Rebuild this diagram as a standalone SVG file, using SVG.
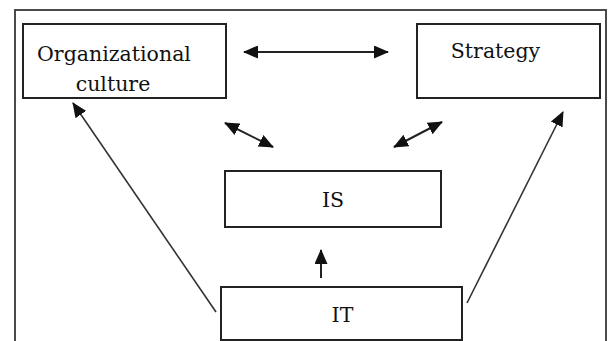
<svg xmlns="http://www.w3.org/2000/svg" width="608" height="341" viewBox="0 0 608 341">
  <style>
    .frame { fill: none; stroke: #4a4a4a; stroke-width: 2; }
    .box { fill: #ffffff; stroke: #222222; stroke-width: 2; }
    .label { font-family: "DejaVu Serif", "Liberation Serif", serif; font-size: 20.5px; fill: #111111; text-anchor: middle; }
    .link { fill: none; stroke: #222222; stroke-width: 2; }
    .thin { stroke: #333333; stroke-width: 1.6; }
  </style>
  <defs>
    <marker id="head" markerUnits="userSpaceOnUse" markerWidth="15" markerHeight="13" refX="14" refY="6.5" orient="auto-start-reverse">
      <path d="M0,0 L15,6.5 L0,13 Z" fill="#111111"/>
    </marker>
  </defs>

  <rect width="608" height="341" fill="#ffffff"/>

  <!-- outer frame, open at the bottom -->
  <path class="frame" d="M15,341 V10 H606 V341"/>

  <g id="org-culture">
    <rect class="box" x="23" y="24" width="203" height="74"/>
    <text class="label" x="114" y="61">Organizational</text>
    <text class="label" x="113" y="91">culture</text>
  </g>

  <g id="strategy">
    <rect class="box" x="417" y="24" width="183" height="74"/>
    <text class="label" x="495.5" y="58">Strategy</text>
  </g>

  <g id="is">
    <rect class="box" x="225" y="171" width="216" height="56"/>
    <text class="label" x="333" y="207">IS</text>
  </g>

  <g id="it">
    <rect class="box" x="221" y="287" width="241" height="53"/>
    <text class="label" x="342.5" y="322">IT</text>
  </g>

  <g id="connectors">
    <!-- culture <-> strategy -->
    <line class="link" x1="244" y1="52" x2="388" y2="52" marker-start="url(#head)" marker-end="url(#head)"/>
    <!-- culture <-> IS -->
    <line class="link" x1="225" y1="123" x2="273" y2="147" marker-start="url(#head)" marker-end="url(#head)"/>
    <!-- strategy <-> IS -->
    <line class="link" x1="394" y1="147" x2="442" y2="122" marker-start="url(#head)" marker-end="url(#head)"/>
    <!-- IT -> culture -->
    <line class="link thin" x1="216" y1="312" x2="73" y2="103" marker-end="url(#head)"/>
    <!-- IT -> strategy -->
    <line class="link thin" x1="467" y1="303" x2="563" y2="112" marker-end="url(#head)"/>
    <!-- IT -> IS -->
    <line class="link" x1="321" y1="278" x2="321" y2="250" marker-end="url(#head)"/>
  </g>
</svg>
